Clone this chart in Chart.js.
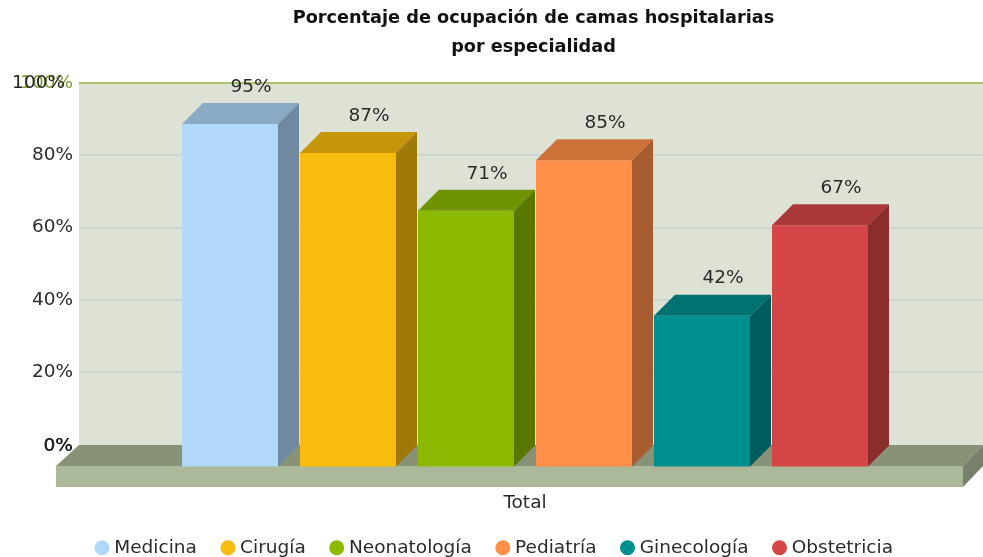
<!DOCTYPE html>
<html>
<head>
<meta charset="utf-8">
<script src="https://cdn.jsdelivr.net/npm/chart.js@4"></script>
<style>
  html, body { margin: 0; padding: 0; background: #fff; }
  #wrap { width: 983px; height: 557px; }
</style>
</head>
<body>
<div id="wrap"><canvas id="camasChart" width="983" height="557"></canvas></div>
<script>
const titleLines = ['Porcentaje de ocupación de camas hospitalarias', 'por especialidad'];
const categories = ['Total'];
const specialties = ['Medicina', 'Cirugía', 'Neonatología', 'Pediatría', 'Ginecología', 'Obstetricia'];
const occupancy = [95, 87, 71, 85, 42, 67];
const yTicks = [0, 20, 40, 60, 80, 100];

const frontColors = ['#b0d8f8', '#f7bc0e', '#8bb900', '#ff8e48', '#008f8f', '#d64646'];
const topColors = ['#8aaac6', '#c49608', '#6f9400', '#cc7238', '#007272', '#ab3838'];
const sideColors = ['#6f8aa0', '#a07a08', '#5a7800', '#a65c2f', '#005d5d', '#8b2d2d'];

const FONT = 'DejaVu Sans, Verdana, sans-serif';
const TEXT_SIZE = 18.5;
const TEXT_COLOR = '#2b2b2b';
const DEPTH = 21;
const SHIFT_X = -6, SHIFT_Y = 23;

// wall, floor and the plate under the bars
const stagePlugin = {
    id: 'stage',
    afterLayout(chart) {
        chart.titleBlock.left += 5; // title sits a bit right of the plot centre
    },
    beforeDraw(chart) {
        const c = chart.ctx;
        const poly = (color, pts) => {
            c.fillStyle = color;
            c.beginPath();
            pts.forEach((p, i) => i ? c.lineTo(p[0], p[1]) : c.moveTo(p[0], p[1]));
            c.closePath();
            c.fill();
        };
        poly('#dde2d4', [[79, 83], [983, 83], [983, 445], [79, 445]]);
        poly('#879277', [[79, 445], [983, 445], [963, 466], [56, 466]]);
        poly('#abb89a', [[56, 466], [963, 466], [963, 487], [56, 487]]);
        poly('#76806a', [[963, 466], [983, 445], [983, 466], [963, 487]]);
    },
    beforeDatasetDraw(chart) {
        chart.ctx.save();
        chart.ctx.translate(SHIFT_X, SHIFT_Y);
    },
    afterDatasetDraw(chart, args) {
        const c = chart.ctx;
        const bar = args.meta.data[0];
        const l = bar.x - bar.width / 2, r = bar.x + bar.width / 2;
        c.fillStyle = topColors[args.index];
        c.beginPath();
        c.moveTo(l, bar.y);
        c.lineTo(l + DEPTH, bar.y - DEPTH);
        c.lineTo(r + DEPTH, bar.y - DEPTH);
        c.lineTo(r, bar.y);
        c.closePath();
        c.fill();
        c.fillStyle = sideColors[args.index];
        c.beginPath();
        c.moveTo(r, bar.y);
        c.lineTo(r + DEPTH, bar.y - DEPTH);
        c.lineTo(r + DEPTH, bar.base - DEPTH);
        c.lineTo(r, bar.base);
        c.closePath();
        c.fill();
        c.restore();
    },
    afterDatasetsDraw(chart) {
        const c = chart.ctx;
        c.save();
        c.font = TEXT_SIZE + 'px ' + FONT;
        c.fillStyle = TEXT_COLOR;
        c.textAlign = 'center';
        c.textBaseline = 'middle';
        chart.data.datasets.forEach((ds, i) => {
            const bar = chart.getDatasetMeta(i).data[0];
            c.fillText(ds.data[0] + '%', bar.x + SHIFT_X + DEPTH, bar.y + SHIFT_Y - DEPTH - 16);
        });
        // the source chart prints these two axis labels twice
        const y = chart.scales.y;
        c.textAlign = 'right';
        c.fillStyle = '#222';
        c.fillText('100%', 65, y.getPixelForValue(100));
        c.fillText('0%', 73, y.getPixelForValue(0) + 2);
        c.fillText('0%', 72.5, y.getPixelForValue(0) + 2);
        c.restore();
    }
};

new Chart(document.getElementById('camasChart'), {
    type: 'bar',
    plugins: [stagePlugin],
    data: {
        labels: categories,
        datasets: specialties.map((name, i) => ({
            label: name,
            data: [occupancy[i]],
            backgroundColor: frontColors[i],
            borderWidth: 0,
            clip: false
        }))
    },
    options: {
        responsive: false,
        animation: false,
        categoryPercentage: 0.7832,
        barPercentage: 0.8136,
        layout: { padding: { left: 5, right: -4, top: 4, bottom: -10 } },
        plugins: {
            title: {
                display: true,
                text: titleLines,
                fullSize: false,
                color: '#111',
                font: { family: FONT, size: 17.7, weight: 'bold', lineHeight: 1.64 },
                padding: { top: 0, bottom: 21 }
            },
            legend: {
                position: 'bottom',
                labels: {
                    usePointStyle: true,
                    pointStyle: 'circle',
                    boxHeight: 10.6,
                    boxWidth: 6,
                    padding: 28,
                    color: TEXT_COLOR,
                    font: { family: FONT, size: TEXT_SIZE }
                }
            },
            tooltip: { enabled: false }
        },
        scales: {
            x: {
                grid: { display: false },
                border: { display: false },
                afterFit(scale) { scale.height = 43; },
                ticks: {
                    color: TEXT_COLOR,
                    padding: 17,
                    labelOffset: -6,
                    font: { family: FONT, size: TEXT_SIZE }
                }
            },
            y: {
                min: -6.39,
                max: 100,
                afterBuildTicks(scale) { scale.ticks = yTicks.map(v => ({ value: v })); },
                afterFit(scale) { scale.width = 74; },
                border: { display: false },
                grid: {
                    drawTicks: false,
                    lineWidth: 2,
                    color: ctx => {
                        if (!ctx.tick) return 'transparent';
                        if (ctx.tick.value === 100) return '#a9c46c';
                        if (ctx.tick.value === 0) return 'transparent';
                        return '#cdd5d2';
                    }
                },
                ticks: {
                    autoSkip: false,
                    padding: 6,
                    color: ctx => {
                        if (ctx.tick.value === 100) return '#7c9c34';
                        return ctx.tick.value === 0 ? 'transparent' : TEXT_COLOR;
                    },
                    font: { family: FONT, size: TEXT_SIZE },
                    callback: v => v + '%'
                }
            }
        }
    }
});
</script>
</body>
</html>
